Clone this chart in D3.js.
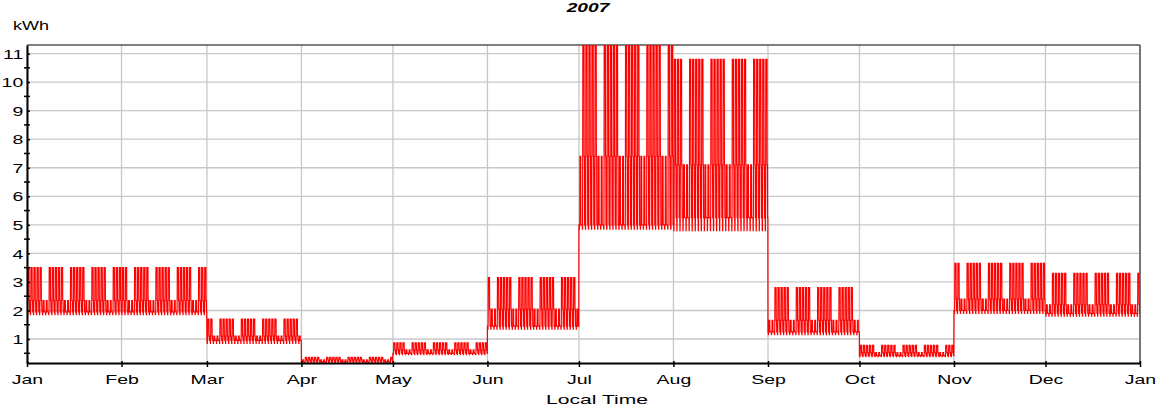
<!DOCTYPE html>
<html>
<head>
<meta charset="utf-8">
<script src="https://cdn.jsdelivr.net/npm/d3@7"></script>
<style>
  body { margin: 0; background: #fff; }
  text { font-family: "Liberation Sans", Arial, sans-serif; fill: #000; }
</style>
</head>
<body>
<div id="chart"></div>
<script>
// Hourly kWh for 2007, rebuilt from monthly load levels and daily profiles

const monthNames = ['Jan', 'Feb', 'Mar', 'Apr', 'May', 'Jun', 'Jul', 'Aug', 'Sep', 'Oct', 'Nov', 'Dec'];

// load levels per month (kWh)
const baseLoad = [1.95, 1.95, 0.95, 0.2, 0.5, 1.45, 5.0, 5.25, 1.25, 0.42, 2.0, 1.9];
const lowLoad  = [1.85, 1.85, 0.85, 0.18, 0.45, 1.35, 4.85, 4.8, 1.15, 0.38, 1.9, 1.8];
const midLoad  = [2.35, 2.35, 1.1, 0.27, 0.62, 2.05, 7.4, 7.1, 1.65, 0.52, 2.4, 2.2];
const peakLoad = [3.5, 3.5, 1.7, 0.36, 0.87, 3.15, 11.8, 10.8, 2.8, 0.78, 3.65, 3.3];

// hourly profile codes: l = low, b = base, m = mid, p = peak
const weekdayProfile = ['b','b','b','l','l','b','m','p','p','p','p','p','p','p','p','p','p','m','m','m','m','b','b','b'];
const weekendProfile = ['b','b','b','l','l','b','b','b','m','m','m','b','b','m','m','b','b','b','b','b','b','b','b','b'];

const yTicks = [1, 2, 3, 4, 5, 6, 7, 8, 9, 10, 11];

const W = 1165, H = 409;
const plot = {left: 27, right: 1140, top: 45, bottom: 363};
const stretch = 'scale(1.5,1)'; // the original's lettering is wide

const levels = {l: lowLoad, b: baseLoad, m: midLoad, p: peakLoad};
const series = [];
for (let d = new Date(2007, 0, 1); d < new Date(2008, 0, 1); d = d3.timeDay.offset(d, 1)) {
    const dow = d.getDay();
    const profile = (dow === 0 || dow === 6) ? weekendProfile : weekdayProfile;
    profile.forEach((code, h) => {
        series.push({t: d3.timeHour.offset(d, h), v: levels[code][d.getMonth()]});
    });
}

const svg = d3.select('#chart').append('svg')
    .attr('width', W)
    .attr('height', H);

const x = d3.scaleTime()
    .domain([new Date(2007, 0, 1), new Date(2008, 0, 1)])
    .range([plot.left, plot.right]);

const y = d3.scaleLinear()
    .domain([0.16, 11.3])
    .range([plot.bottom, plot.top]);

// grid
const monthTicks = x.ticks(d3.timeMonth.every(1));
svg.append('g').selectAll('line')
    .data(monthTicks)
    .enter().append('line')
    .attr('x1', d => x(d)).attr('x2', d => x(d))
    .attr('y1', plot.top).attr('y2', plot.bottom)
    .attr('stroke', '#c8c8c8')
    .attr('stroke-width', 1.3);

svg.append('g').selectAll('line')
    .data(yTicks)
    .enter().append('line')
    .attr('x1', plot.left).attr('x2', plot.right)
    .attr('y1', d => y(d)).attr('y2', d => y(d))
    .attr('stroke', '#c8c8c8')
    .attr('stroke-width', 1.3);

// frame top / right
svg.append('line')
    .attr('x1', plot.left).attr('x2', plot.right)
    .attr('y1', plot.top).attr('y2', plot.top)
    .attr('stroke', '#555').attr('stroke-width', 1.5);
svg.append('line')
    .attr('x1', plot.right).attr('x2', plot.right)
    .attr('y1', plot.top).attr('y2', plot.bottom)
    .attr('stroke', '#555').attr('stroke-width', 1.5);

// data line
svg.append('clipPath').attr('id', 'clip')
    .append('rect')
    .attr('x', plot.left).attr('y', plot.top)
    .attr('width', plot.right - plot.left)
    .attr('height', plot.bottom - plot.top);

const line = d3.line()
    .x(d => x(d.t))
    .y(d => y(d.v));

svg.append('path')
    .datum(series)
    .attr('clip-path', 'url(#clip)')
    .attr('fill', 'none')
    .attr('stroke', '#ff0000')
    .attr('stroke-width', 1.2)
    .attr('d', line);

// x axis
const xAxis = d3.axisBottom(x)
    .ticks(d3.timeMonth.every(1))
    .tickFormat(d3.timeFormat('%b'))
    .tickSizeInner(4)
    .tickSizeOuter(0);
const gx = svg.append('g')
    .attr('transform', `translate(0,${plot.bottom})`)
    .call(xAxis);
gx.select('.domain').attr('stroke', '#000').attr('stroke-width', 2);
gx.selectAll('.tick line').attr('y1', -2).attr('stroke-width', 1.5);
gx.selectAll('.tick text')
    .attr('y', 21).attr('dy', 0)
    .attr('transform', stretch)
    .style('font-size', '13px');

// y axis
const yAxis = d3.axisLeft(y)
    .tickValues(yTicks)
    .tickFormat(d3.format('d'))
    .tickSizeInner(4)
    .tickSizeOuter(0);
const gy = svg.append('g')
    .attr('transform', `translate(${plot.left},0)`)
    .call(yAxis);
gy.select('.domain').attr('stroke', '#000').attr('stroke-width', 2);
gy.selectAll('.tick line').attr('x2', 3).attr('stroke-width', 1.5);
gy.selectAll('.tick text')
    .attr('x', -2.5)
    .attr('dy', '0.36em')
    .attr('transform', stretch)
    .style('font-size', '13px');

// minor y ticks
const minorTicks = yTicks.map(v => v - 0.5).filter(v => v > 0.16 && v < 11.3);
svg.append('g').selectAll('line')
    .data(minorTicks)
    .enter().append('line')
    .attr('x1', plot.left - 3).attr('x2', plot.left + 3)
    .attr('y1', d => y(d)).attr('y2', d => y(d))
    .attr('stroke', '#000').attr('stroke-width', 1.5);

// labels
svg.append('text')
    .attr('transform', `translate(13,30) ${stretch}`)
    .style('font-size', '12px')
    .text('kWh');

svg.append('text')
    .attr('transform', `translate(588,12) scale(1.6,1)`)
    .attr('text-anchor', 'middle')
    .style('font-size', '12px')
    .style('font-weight', 'bold')
    .style('font-style', 'italic')
    .text('2007');

svg.append('text')
    .attr('transform', 'translate(597,404) scale(1.62,1)')
    .attr('text-anchor', 'middle')
    .style('font-size', '13px')
    .text('Local Time');
</script>
</body>
</html>
